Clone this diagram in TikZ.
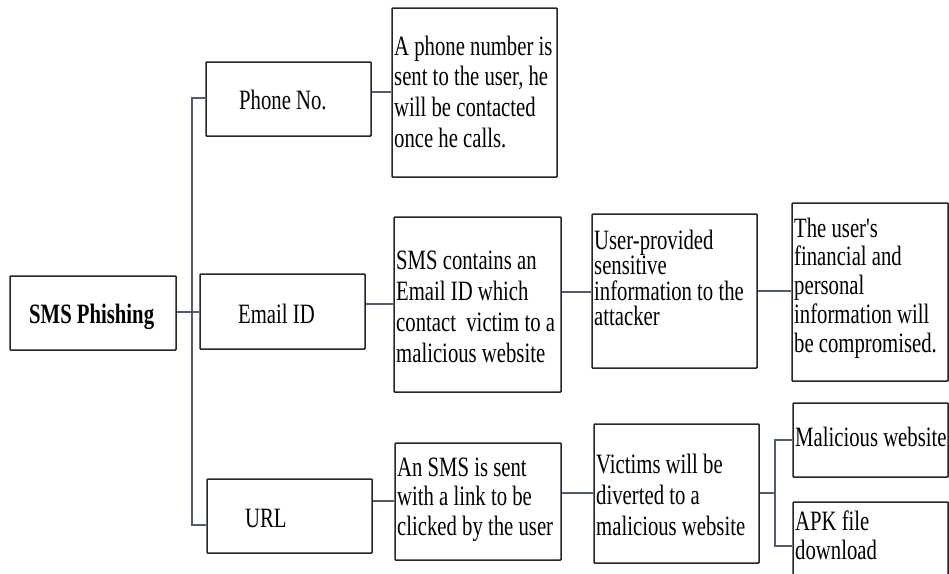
\documentclass[tikz,border=0pt]{standalone}
\usepackage{fontspec}
\setmainfont{Liberation Serif}[FakeStretch=0.74, Ligatures=TeXOff]
\begin{document}
\begin{tikzpicture}[x=1pt,y=-1pt,
  box/.style={draw=black!85, line width=1.5pt, rounded corners=0.8pt, inner sep=0pt, fill=white},
  conn/.style={draw=lineblue, line width=2.2pt},
  one/.style={anchor=base west, inner sep=0pt, font=\fontsize{28}{30}\selectfont},
  multi/.style={anchor=north west, inner sep=0pt, align=left, font=\fontsize{28}{#1}\selectfont},
]
\definecolor{lineblue}{HTML}{4E5B70}
\useasboundingbox (0,0) rectangle (949,573);
\newcommand\mybox[5]{\node[box, minimum width={(#4-#2)*1pt}, minimum height={(#5-#3)*1pt}] (#1) at ({(#2+#4)/2},{(#3+#5)/2}) {};}
\newcommand\fr{\rule{0pt}{22pt}}
% boxes
\mybox{root}{10}{276}{176}{350}
\mybox{phone}{206}{62}{371}{136}
\mybox{email}{200}{274}{365}{349}
\mybox{url}{207}{479}{372}{553}
\mybox{phonetxt}{392}{8}{557}{177}
\mybox{emailA}{394}{217}{561}{392}
\mybox{emailB}{592}{214}{757}{368}
\mybox{emailC}{792}{203}{948}{381}
\mybox{urlA}{395}{443}{561}{560}
\mybox{urlB}{594}{424}{759}{563}
\mybox{urlC}{793}{403}{948}{477}
\mybox{urlD}{793}{502}{948}{590}
% texts
\node[one, font=\fontsize{28}{30}\selectfont\bfseries] (rootT) at (29,323) {SMS Phishing};
\node[one] (phoneT) at (239,109) {Phone No.};
\node[one] (emailT) at (238,323) {Email ID};
\node[one] (urlT) at (245,527) {URL};
\node[multi=30.7] (phonetxtT) at (394,{55-22}) {\fr A phone number is\\sent to the user, he\\will be contacted\\once he calls.};
\node[multi=31] (emailAT) at (396,{269-22}) {\fr SMS contains an\\Email ID which\\contact\ \ victim to a\\malicious website};
\node[multi=25.5] (emailBT) at (594,{249-22}) {\fr User-provided\\sensitive\\information to the\\attacker};
\node[multi=28.7] (emailCT) at (794,{237-22}) {\fr The user's\\financial and\\personal\\information will\\be compromised.};
\node[multi=29.5] (urlAT) at (397,{476-22}) {\fr An SMS is sent\\with a link to be\\clicked by the user};
\node[multi=31] (urlBT) at (596,{473-22}) {\fr Victims will be\\diverted to a\\malicious website};
\node[one] (urlCT) at (795,446) {Malicious website};
\node[multi=29] (urlDT) at (795,{530-22}) {\fr APK file\\download};
% connectors
\coordinate (tr) at (192,312);
\coordinate (trtop) at (192,98);
\coordinate (trbot) at (192,525);
\draw[conn] (root.east |- tr) -- (email.west |- tr);
\draw[conn] (phone.west |- trtop) -- (trtop) -- (trbot) -- (url.west |- trbot);
\draw[conn] (phone.east |- 0,92) -- (phonetxt.west |- 0,92);
\draw[conn] (email.east |- 0,304) -- (emailA.west |- 0,304);
\draw[conn] (emailA.east |- 0,292) -- (emailB.west |- 0,292);
\draw[conn] (emailB.east |- 0,291) -- (emailC.west |- 0,291);
\draw[conn] (url.east |- 0,501) -- (urlA.west |- 0,501);
\draw[conn] (urlA.east |- 0,493) -- (urlB.west |- 0,493);
\coordinate (br) at (775,493);
\coordinate (bt) at (775,440);
\coordinate (bb) at (775,546);
\draw[conn] (urlB.east |- br) -- (br);
\draw[conn] (urlC.west |- bt) -- (bt) -- (bb) -- (urlD.west |- bb);
\end{tikzpicture}
\end{document}
